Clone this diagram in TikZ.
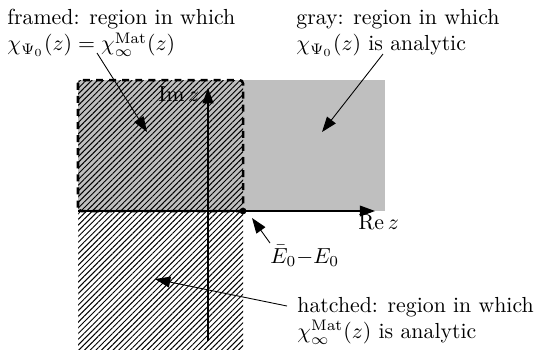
\documentclass[tikz,border=0pt]{standalone}
\usetikzlibrary{arrows.meta,patterns.meta}
\begin{document}
\begin{tikzpicture}[x=0.4587pt,y=-0.4587pt,
  lbl/.style={inner sep=0pt,align=left},
  pointer/.style={line width=0.4pt,-{Triangle[length=7pt,width=5pt]}},
  axis/.style={line width=0.5pt,-{Triangle[length=7pt,width=5pt]}},
  hatch/.style={pattern={Lines[angle=45,distance=1.85pt,line width=0.45pt]}},
  frame/.style={line width=1.15pt,dash pattern=on 3.2pt off 2.8pt,rounded corners=1.6pt}]
\path[use as bounding box] (0,0) rectangle (535,349);
% regions
\fill[black!25] (78,80) rectangle (385,211);
\fill[hatch] (78,80) rectangle (243,349);
% axes
\coordinate (xs) at (78,211);
\coordinate (xe) at (375,211);
\coordinate (ys) at (208,341);
\coordinate (ye) at (208,88);
\draw[axis] (xs) -- (xe);
\draw[axis] (ys) -- (ye);
\node[lbl,anchor=base west] (re) at (358,229) {$\mathrm{Re}\,z$};
\node[lbl,anchor=base west] (im) at (158,101) {$\mathrm{Im}\,z$};
% framed region
\draw[frame] (78,211) rectangle (243,80);
\coordinate (e0) at (243,211);
\fill (e0) circle (1.55pt);
% labels
\node[lbl,anchor=north west] (framed) at (7,9) {framed: region in which\\$\chi_{\Psi_0}(z)=\chi_\infty^{\mathrm{Mat}}(z)$};
\node[lbl,anchor=north west] (gray) at (296,9) {gray: region in which\\$\chi_{\Psi_0}(z)$ is analytic};
\node[lbl,anchor=north west] (hatched) at (297,297) {hatched: region in which\\$\chi_\infty^{\mathrm{Mat}}(z)$ is analytic};
\node[lbl,anchor=base west] (ebar) at (270,263) {$\bar{E}_0{-}E_0$};
% pointers
\coordinate (a1s) at (97,53);   \coordinate (a1e) at (147,132);
\coordinate (a2s) at (383,54);  \coordinate (a2e) at (322,132);
\coordinate (a3s) at (270,243); \coordinate (a3e) at (252,218);
\coordinate (a4s) at (287,306); \coordinate (a4e) at (155,279);
\draw[pointer] (a1s) -- (a1e);
\draw[pointer] (a2s) -- (a2e);
\draw[pointer] (a3s) -- (a3e);
\draw[pointer] (a4s) -- (a4e);
\end{tikzpicture}
\end{document}
